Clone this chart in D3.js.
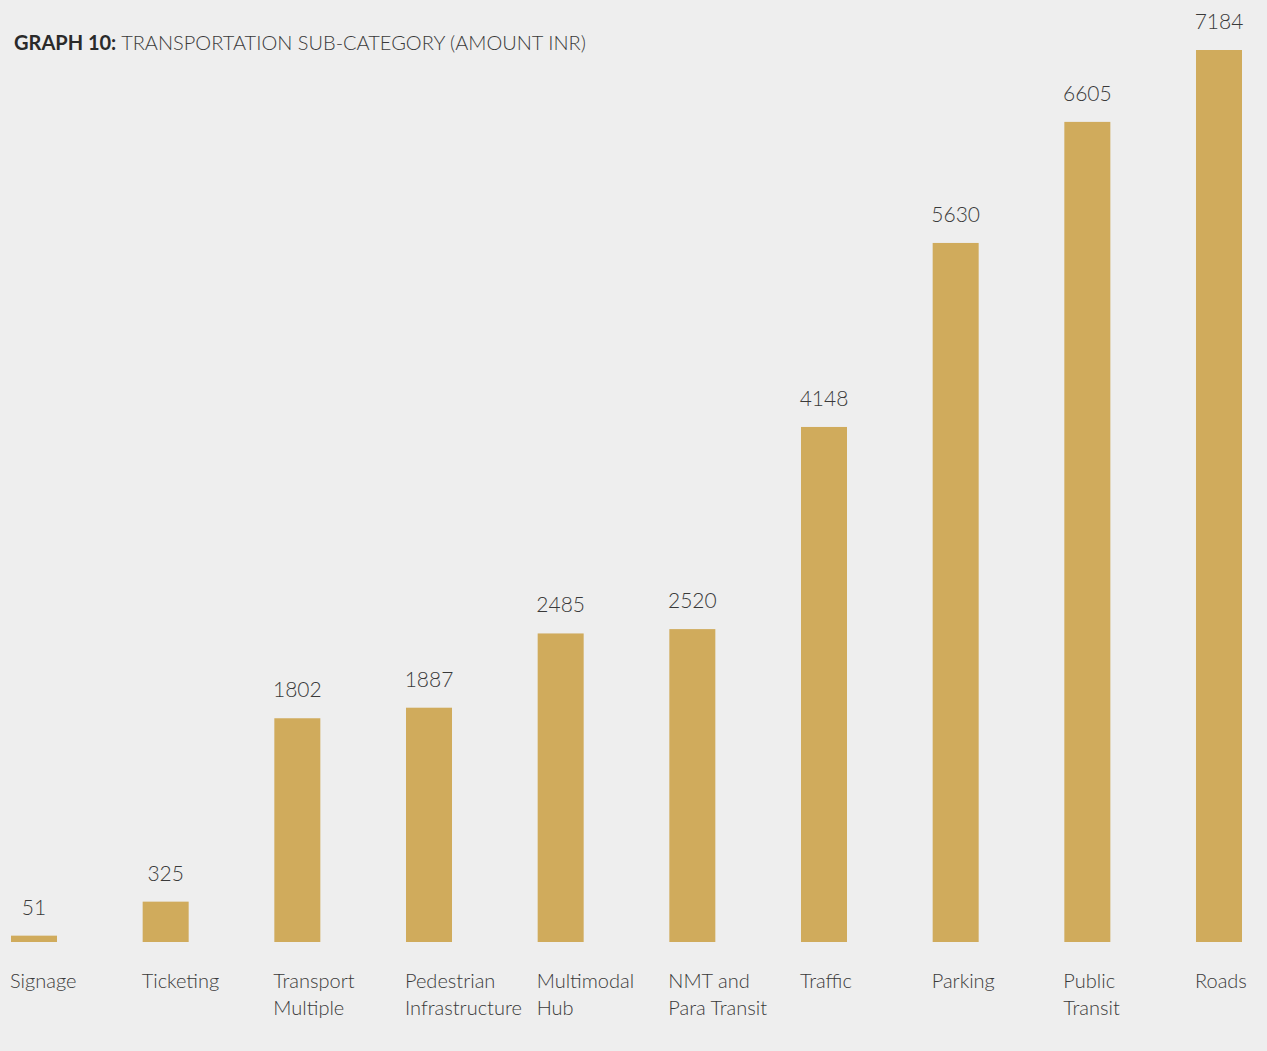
<!DOCTYPE html>
<html>
<head>
<meta charset="utf-8">
<script src="https://cdn.jsdelivr.net/npm/d3@7"></script>
<style>
  html, body { margin: 0; padding: 0; background: #eeeeee; }
  svg { display: block; }
  text { font-family: Lato, "Open Sans", sans-serif; fill: #3a3a3a; }
</style>
</head>
<body>
<svg id="chart" width="1267" height="1051"></svg>
<script>
// Transportation sub-category spending (INR)
const categories = [
  ["Signage"],
  ["Ticketing"],
  ["Transport", "Multiple"],
  ["Pedestrian", "Infrastructure"],
  ["Multimodal", "Hub"],
  ["NMT and", "Para Transit"],
  ["Traffic"],
  ["Parking"],
  ["Public", "Transit"],
  ["Roads"]
];
const amounts = [51, 325, 1802, 1887, 2485, 2520, 4148, 5630, 6605, 7184];

const W = 1267, H = 1051;
const svg = d3.select("#chart");
svg.append("rect").attr("width", W).attr("height", H).attr("fill", "#eeeeee");

const keys = categories.map(c => c.join(" "));
const x = d3.scaleBand()
  .domain(keys)
  .range([11, 1242])
  .paddingInner(0.6506)
  .paddingOuter(0);

const y = d3.scaleLinear()
  .domain([0, d3.max(amounts)])
  .range([942, 50]);

const rows = keys.map((k, i) => ({ key: k, lines: categories[i], value: amounts[i] }));

// bars
svg.append("g").selectAll("rect")
  .data(rows)
  .join("rect")
  .attr("x", d => x(d.key))
  .attr("y", d => y(d.value))
  .attr("width", x.bandwidth())
  .attr("height", d => y(0) - y(d.value))
  .attr("fill", "#d0ab5c");

// value labels
svg.append("g").selectAll("text")
  .data(rows)
  .join("text")
  .attr("x", d => x(d.key) + x.bandwidth() / 2)
  .attr("y", d => y(d.value) - 21)
  .attr("text-anchor", "middle")
  .attr("font-size", 21)
  .attr("font-weight", 300)
  .text(d => d.value);

// category labels
const cat = svg.append("g").selectAll("text")
  .data(rows)
  .join("text")
  .attr("x", d => x(d.key) - 1)
  .attr("y", 988)
  .attr("font-size", 20)
  .attr("font-weight", 300);
cat.selectAll("tspan")
  .data(d => d.lines.map((l, j) => ({ l, j, x0: x(d.key) - 1 })))
  .join("tspan")
  .attr("x", t => t.x0)
  .attr("dy", t => t.j === 0 ? 0 : 27)
  .text(t => t.l);

// title
const title = svg.append("text")
  .attr("x", 14)
  .attr("y", 50)
  .attr("font-size", 20);
title.append("tspan").attr("font-weight", 700).attr("fill", "#2a2a2a").text("GRAPH 10: ");
title.append("tspan").attr("font-weight", 300).text("TRANSPORTATION SUB-CATEGORY (AMOUNT INR)");
</script>
</body>
</html>
